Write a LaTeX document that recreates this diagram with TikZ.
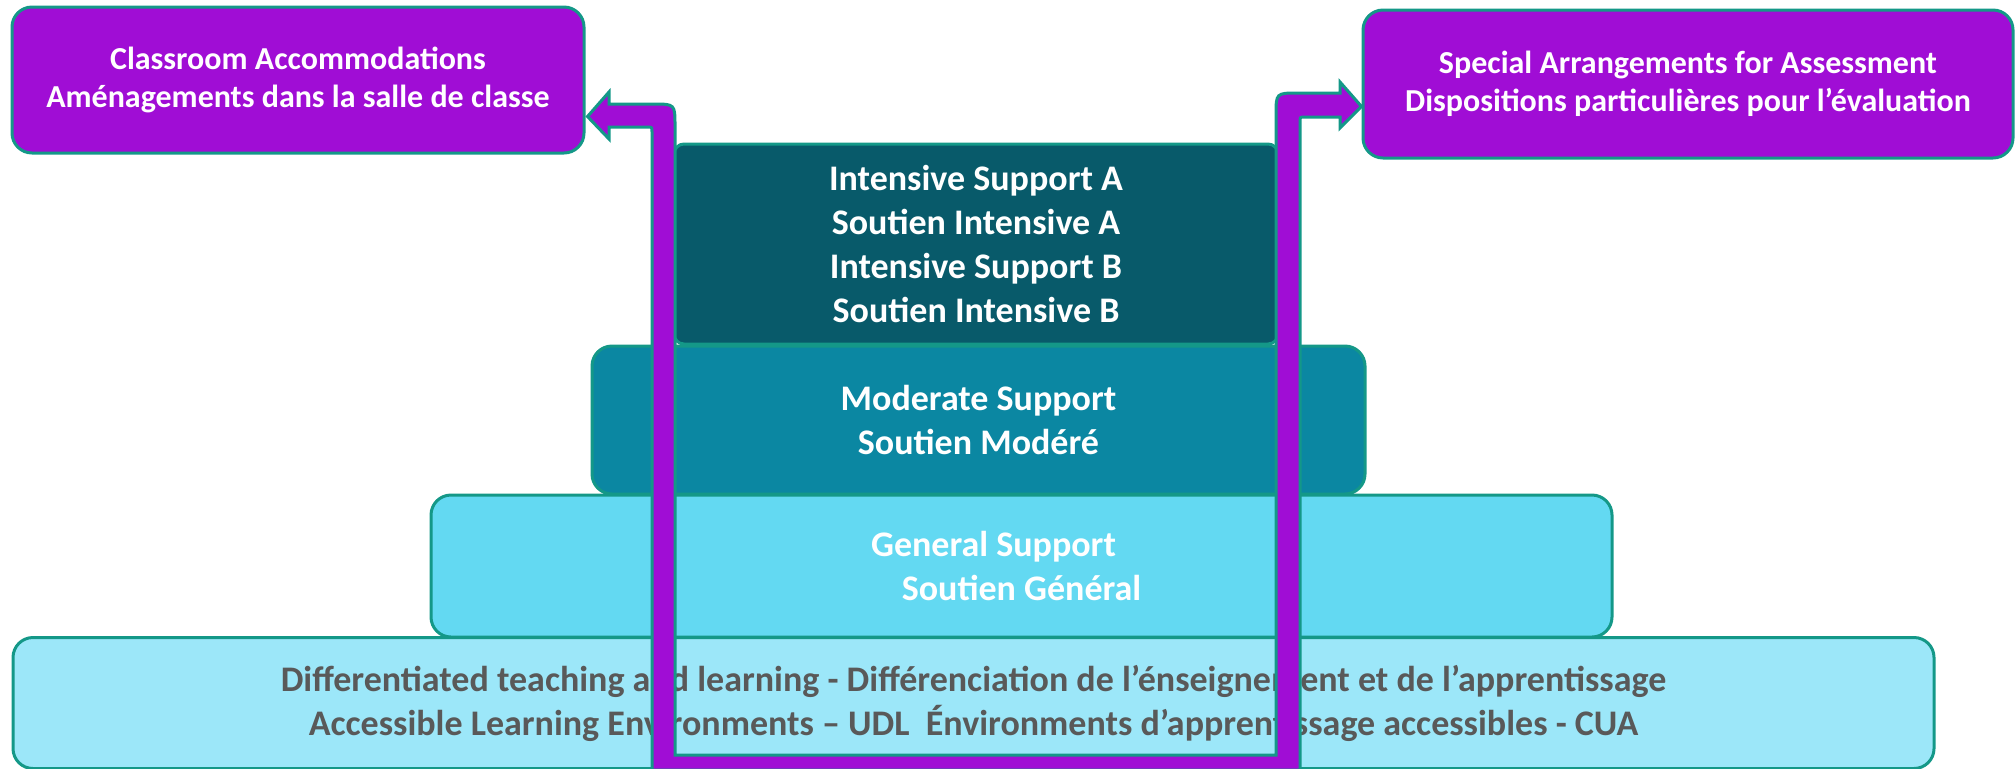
\documentclass[tikz,border=0pt]{standalone}
\usepackage{fontspec}
\setmainfont{Carlito}
\usetikzlibrary{calc}
\definecolor{purp}{RGB}{160,13,213}
\definecolor{outl}{RGB}{20,152,136}
\definecolor{intc}{RGB}{8,90,106}
\definecolor{modc}{RGB}{11,135,162}
\definecolor{genc}{RGB}{99,217,242}
\definecolor{botc}{RGB}{156,231,249}
\definecolor{txtg}{RGB}{89,89,89}
\begin{document}
\begin{tikzpicture}[x=0.5pt,y=-0.5pt,
  tier/.style={draw=outl, line width=1.5pt, rounded corners=10pt, inner sep=0pt,
    align=center, text=white, font=\bfseries\fontsize{18pt}{22pt}\selectfont},
  topbox/.style={tier, fill=purp, font=\bfseries\fontsize{16pt}{18.8pt}\selectfont},
  connector/.style={fill=purp, draw=outl, line width=1.5pt, line join=miter}]
\useasboundingbox (0,0) rectangle (2016,768);
\node[tier, fill=botc, text=txtg, minimum width=960.5pt, minimum height=65.5pt] (bot) at (973.5,703)
  {Differentiated teaching and learning - Différenciation de l’énseignement et de l’apprentissage\\
   Accessible Learning Environments – UDL\ \ Énvironments d’apprentissage accessibles - CUA};
\node[tier, fill=genc, minimum width=590.5pt, minimum height=71pt] (gen) at (1021.5,566)
  {General Support\hspace*{28pt}\\Soutien Général};
\node[tier, fill=modc, minimum width=386.5pt, minimum height=74pt] (mod) at (978.5,420)
  {Moderate Support\\Soutien Modéré};
\node[tier, fill=intc, rounded corners=5pt, minimum width=302pt, minimum height=100pt] (int) at (976,244)
  {Intensive Support A\\Soutien Intensive A\\Intensive Support B\\Soutien Intensive B};
\node[topbox, minimum width=286pt, minimum height=73pt] (cls) at (298,80)
  {Classroom Accommodations\\Aménagements dans la salle de classe};
\node[topbox, minimum width=325pt, minimum height=74pt] (spec) at (1688,84)
  {Special Arrangements for Assessment\\Dispositions particulières pour l’évaluation};
\coordinate (tipL) at ($(cls.south east)+(2,-38)$);
\coordinate (tipR) at ($(spec.south west)+(0,-53)$);
\path[connector] (tipL) -- (609,92) -- (609,104) -- (653,104) .. controls (675,104) .. (675,126)
  -- (675,755) -- (1276,755) -- (1276,115) .. controls (1276,93) .. (1298,93)
  -- (1340,93) -- (1340,82) -- (tipR) -- (1340,128) -- (1340,117) -- (1305,117)
  .. controls (1300,117) .. (1300,122) -- (1300,770) -- (652,770) -- (652,132)
  .. controls (652,127) .. (647,127) -- (609,127) -- (609,139) -- cycle;
\end{tikzpicture}
\end{document}
